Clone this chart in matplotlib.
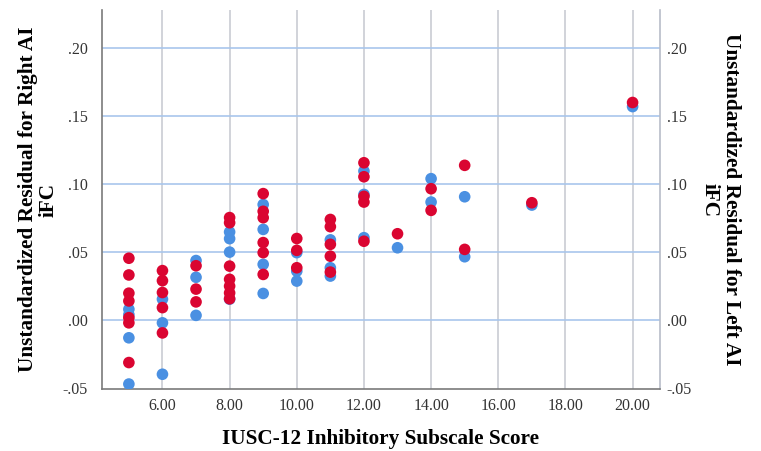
#!/usr/bin/env python3
"""
Scatter of residualised AI iFC (right and left) against IUSC-12 inhibitory score.
"""

import matplotlib.pyplot as plt
from matplotlib.ticker import FuncFormatter


# -----------------------------
# Data
# -----------------------------
right_x = [5, 5, 5, 5,
           6, 6, 6,
           7, 7, 7,
           8, 8, 8, 8,
           9, 9, 9, 9,
           10, 10, 10,
           11, 11, 11,
           12, 12, 12,
           13,
           14, 14,
           15, 15,
           17,
           20]
right_ai = [0.008, 0.004, -0.013, -0.047,
            0.0154, -0.002, -0.0398,
            0.0438, 0.0315, 0.0035,
            0.0648, 0.0599, 0.050, 0.0154,
            0.085, 0.0667, 0.041, 0.0196,
            0.0496, 0.036, 0.0287,
            0.059, 0.0385, 0.0324,
            0.1096, 0.0924, 0.0606,
            0.0532,
            0.104, 0.0868,
            0.0907, 0.0466,
            0.0846,
            0.157]

left_x = [5, 5, 5, 5, 5, 5, 5,
          6, 6, 6, 6, 6,
          7, 7, 7,
          8, 8, 8, 8, 8, 8, 8,
          9, 9, 9, 9, 9, 9,
          10, 10, 10,
          11, 11, 11, 11, 11,
          12, 12, 12, 12, 12,
          13,
          14, 14,
          15, 15,
          17,
          20]
left_ai = [0.0455, 0.0332, 0.0198, 0.0141, 0.0018, -0.002, -0.0312,
           0.0364, 0.029, 0.0203, 0.0092, -0.0094,
           0.040, 0.0228, 0.0134,
           0.0754, 0.0716, 0.0397, 0.030, 0.025, 0.020, 0.0157,
           0.093, 0.080, 0.0753, 0.057, 0.0496, 0.0336,
           0.060, 0.0513, 0.0385,
           0.074, 0.0687, 0.0557, 0.047, 0.0353,
           0.1157, 0.1054, 0.091, 0.0868, 0.058,
           0.0635,
           0.0966, 0.0807,
           0.1138, 0.052,
           0.0863,
           0.160]

x_ticks = [6, 8, 10, 12, 14, 16, 18, 20]
y_ticks = [-0.05, 0.00, 0.05, 0.10, 0.15, 0.20]

BLUE = "#4A90E2"
RED = "#DA0531"


def spss_fmt(v, _pos):
    # SPSS style: no leading zero
    return f"{v:.2f}".replace("0.", ".", 1)


def main():
    plt.rcParams["font.family"] = ["Liberation Serif", "DejaVu Serif"]

    fig = plt.figure(figsize=(7.61, 4.51), dpi=100)
    ax = fig.add_axes([0.1336, 0.1364, 0.7334, 0.8414])

    ax.set_xlim(4.19, 20.81)
    ax.set_ylim(-0.051, 0.228)

    ax.set_xticks(x_ticks)
    ax.xaxis.set_major_formatter(FuncFormatter(lambda v, p: f"{v:.2f}"))
    ax.set_yticks(y_ticks)
    ax.yaxis.set_major_formatter(FuncFormatter(spss_fmt))

    # grid: grey verticals, light-blue horizontals
    for xv in x_ticks:
        ax.axvline(xv, color="#C9CCD3", lw=1.2, zorder=0)
    for yv in y_ticks[1:]:
        ax.axhline(yv, color="#A9C6EC", lw=1.2, zorder=0)

    ax.scatter(right_x, right_ai, s=70, color=BLUE, edgecolors="none", zorder=3)
    ax.scatter(left_x, left_ai, s=70, color=RED, edgecolors="none", zorder=4)

    ax.spines["top"].set_visible(False)
    ax.spines["left"].set_color("#7A7A7A")
    ax.spines["bottom"].set_color("#7A7A7A")
    ax.spines["right"].set_color("#B8BCC8")
    for s in ("left", "bottom", "right"):
        ax.spines[s].set_linewidth(1.2)

    ax.tick_params(length=0, labelsize=11.5, colors="#333333")
    ax.tick_params(axis="y", pad=10)
    ax.tick_params(axis="x", pad=6)

    ax.set_xlabel("IUSC-12 Inhibitory Subscale Score", fontsize=15.3,
                  fontweight="bold", labelpad=11)
    ax.set_ylabel("Unstandardized Residual for Right AI\niFC", fontsize=15.3,
                  fontweight="bold", labelpad=3, linespacing=1.05)

    ax2 = ax.twinx()
    ax2.set_ylim(ax.get_ylim())
    ax2.set_yticks(y_ticks)
    ax2.yaxis.set_major_formatter(FuncFormatter(spss_fmt))
    ax2.tick_params(length=0, labelsize=11.5, colors="#333333", pad=5)
    for s in ax2.spines.values():
        s.set_visible(False)
    ax2.set_ylabel("Unstandardized Residual for Left AI\niFC", fontsize=15.3,
                   fontweight="bold", rotation=270, labelpad=35, linespacing=1.05)

    fig.savefig("out.png", dpi=100)
    plt.close(fig)


if __name__ == "__main__":
    main()
